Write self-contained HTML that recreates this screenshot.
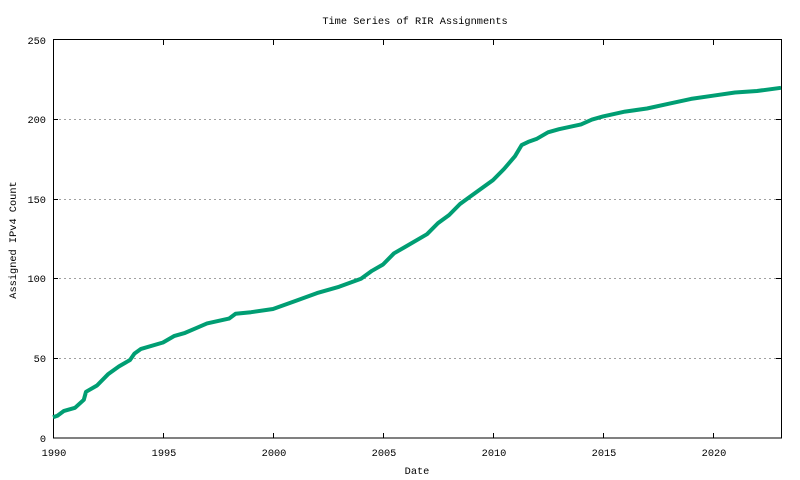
<!DOCTYPE html>
<html><head><style>body{margin:0;background:#fff}svg{display:block}text{font-family:"Liberation Mono",monospace;font-size:10.3px;fill:#000}</style></head>
<body>
<svg width="800" height="480" viewBox="0 0 800 480">
<rect width="800" height="480" fill="#fff"/>
<g stroke="#a0a0a0" stroke-dasharray="2,3" stroke-width="1">
<line x1="54" y1="119.5" x2="781" y2="119.5"/>
<line x1="54" y1="199.5" x2="781" y2="199.5"/>
<line x1="54" y1="278.5" x2="781" y2="278.5"/>
<line x1="54" y1="358.5" x2="781" y2="358.5"/>
</g>
<rect x="53.5" y="39.5" width="728" height="398.5" fill="none" stroke="#000"/>
<g stroke="#000">
<line x1="53" y1="358.5" x2="58" y2="358.5"/><line x1="53" y1="278.5" x2="58" y2="278.5"/><line x1="53" y1="199.5" x2="58" y2="199.5"/><line x1="53" y1="119.5" x2="58" y2="119.5"/>
<line x1="781" y1="358.5" x2="776" y2="358.5"/><line x1="781" y1="278.5" x2="776" y2="278.5"/><line x1="781" y1="199.5" x2="776" y2="199.5"/><line x1="781" y1="119.5" x2="776" y2="119.5"/>
<line x1="163.5" y1="438" x2="163.5" y2="433"/><line x1="273.5" y1="438" x2="273.5" y2="433"/><line x1="383.5" y1="438" x2="383.5" y2="433"/><line x1="493.5" y1="438" x2="493.5" y2="433"/><line x1="603.5" y1="438" x2="603.5" y2="433"/><line x1="713.5" y1="438" x2="713.5" y2="433"/>
<line x1="163.5" y1="40" x2="163.5" y2="45"/><line x1="273.5" y1="40" x2="273.5" y2="45"/><line x1="383.5" y1="40" x2="383.5" y2="45"/><line x1="493.5" y1="40" x2="493.5" y2="45"/><line x1="603.5" y1="40" x2="603.5" y2="45"/><line x1="713.5" y1="40" x2="713.5" y2="45"/>
</g>
<g text-anchor="end">
<text x="46" y="442">0</text><text x="46" y="362">50</text><text x="46" y="282">100</text><text x="46" y="203">150</text><text x="46" y="123">200</text><text x="46" y="44">250</text>
</g>
<g text-anchor="middle">
<text x="54" y="456">1990</text><text x="164" y="456">1995</text><text x="274" y="456">2000</text><text x="384" y="456">2005</text><text x="494" y="456">2010</text><text x="604" y="456">2015</text><text x="714" y="456">2020</text>
<text x="417" y="474">Date</text>
<text x="415" y="24">Time Series of RIR Assignments</text>
<text transform="translate(16,240) rotate(-90)">Assigned IPv4 Count</text>
</g>
<polyline fill="none" stroke="#009e73" stroke-width="4" stroke-linejoin="round" points="53,417.3 57.4,415.7 64,410.9 75,407.8 83.8,399.8 86,391.8 97,385.5 108,374.3 119,366.4 130,360 134.4,353.6 141,348.9 163,342.5 174,336.1 185,332.9 196,328.2 207,323.4 229,318.6 235.6,313.8 251,312.2 273,309 295,301.1 317,293.1 339,286.8 361,278.8 372,270.8 383,264.5 394,253.3 405,247 427,234.2 438,223.1 449,215.1 460,204 471,196 493,180.1 504,169 515,156.2 521.6,145.1 528.2,141.9 537,138.7 548,132.3 559,129.2 581,124.4 592,119.6 603,116.4 625,111.6 647,108.5 669,103.7 691,98.9 713,95.7 735,92.5 757,91 781,87.8"/>
</svg>
</body></html>
